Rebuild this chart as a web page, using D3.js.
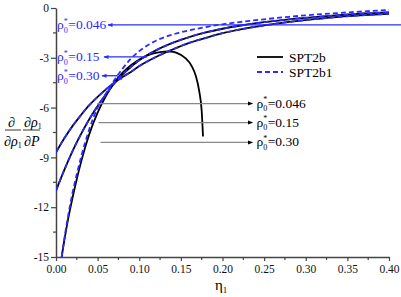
<!DOCTYPE html>
<html><head><meta charset="utf-8">
<script src="https://cdn.jsdelivr.net/npm/d3@7"></script>
<style>body{margin:0;background:#fff}svg{display:block}text{font-family:"Liberation Serif","Times New Roman",serif}</style>
</head><body><svg id="c" width="401" height="297"></svg>
<script>
// ---- data ----
const etaA = [0,0.01,0.02,0.03,0.04,0.05,0.06,0.07,0.08,0.09,0.10,0.12,0.14,0.16,0.18,0.20,0.22,0.25,0.28,0.31,0.34,0.37,0.40];
const spt2b_A = [-8.7,-7.85,-7.1,-6.45,-5.85,-5.35,-4.9,-4.5,-4.15,-3.85,-3.5,-2.95,-2.5,-2.1,-1.8,-1.52,-1.3,-1.05,-0.84,-0.67,-0.53,-0.43,-0.35];
const spt2b_B = [-11.0,-9.75,-8.6,-7.6,-6.7,-5.9,-5.2,-4.55,-4.0,-3.55,-3.15,-2.55,-2.1,-1.75,-1.47,-1.25,-1.07,-0.85,-0.68,-0.55,-0.43,-0.33,-0.26];
const etaC = [0.0068,0.01,0.015,0.02,0.025,0.03,0.035,0.04,0.05,0.06,0.07,0.08,0.09,0.10,0.11,0.12,0.13,0.137,0.145,0.155,0.163,0.168,0.172,0.175,0.1766];
const spt2b_C = [-15,-14.0,-12.6,-11.4,-10.3,-9.3,-8.4,-7.6,-6.3,-5.3,-4.5,-3.9,-3.45,-3.1,-2.85,-2.7,-2.63,-2.62,-2.7,-3.0,-3.5,-4.1,-5.0,-6.2,-7.74];
const etaC1 = [0.0068,0.01,0.015,0.02,0.025,0.03,0.035,0.04,0.05,0.06,0.07,0.08,0.09,0.10,0.11,0.12,0.14,0.16,0.18,0.20,0.22,0.25,0.28,0.31,0.34,0.37,0.40];
const spt2b1_C = [-15,-13.9,-12.4,-11.1,-10.0,-9.0,-8.1,-7.3,-6.0,-5.15,-4.35,-3.65,-3.05,-2.6,-2.25,-1.97,-1.6,-1.35,-1.15,-0.98,-0.85,-0.68,-0.53,-0.4,-0.3,-0.2,-0.12];
const spt2b1_A = spt2b_A.slice();
const spt2b1_B = spt2b_B.slice();
const xTicks = [0,0.05,0.10,0.15,0.20,0.25,0.30,0.35,0.40];
const yTicks = [0,-3,-6,-9,-12,-15];
const rhoLabels = ["0.046","0.15","0.30"];
const legendNames = ["SPT2b","SPT2b1"];
// annotation anchor values (data units)
const blackArrowY = [-5.76,-6.9,-8.1];
const blackArrowX0 = [0.0495,0.051,0.0535];
const blackArrowX1 = 0.236;
const blueArrowY = [-1.02,-2.95,-4.08];

const BLUE = "#2b2bff";
const FONT = "'Liberation Serif','Times New Roman',serif";
const svg = d3.select("#c");
const x = d3.scaleLinear().domain([0,0.4]).range([56,389]);
const y = d3.scaleLinear().domain([-15,0]).range([257,8]);

svg.append("defs").html(`
<marker id="ab" viewBox="0 0 10 10" refX="9" refY="5" markerWidth="7" markerHeight="5" orient="auto" markerUnits="userSpaceOnUse"><path d="M0,1 L10,5 L0,9 z" fill="#000"/></marker>
<marker id="au" viewBox="0 0 10 10" refX="9" refY="5" markerWidth="8" markerHeight="5" orient="auto" markerUnits="userSpaceOnUse"><path d="M0,1 L10,5 L0,9 z" fill="${BLUE}"/></marker>
<clipPath id="clip"><rect x="56" y="0" width="345" height="257.5"/></clipPath>`);

// axes
const xAxis = d3.axisBottom(x).tickValues(xTicks).tickFormat(d3.format(".2f")).tickSize(4).tickSizeOuter(0);
const gx = svg.append("g").attr("transform",`translate(0,${y(-15)})`).call(xAxis);
const yAxis = d3.axisLeft(y).tickValues(yTicks).tickFormat(d=>d).tickSize(5).tickSizeOuter(0);
const gy = svg.append("g").attr("transform",`translate(${x(0)},0)`).call(yAxis);
[gx,gy].forEach(g=>{g.attr("font-family",null);
  g.select(".domain").attr("stroke","#444").attr("stroke-width",1.5);
  g.selectAll(".tick line").attr("stroke","#444").attr("stroke-width",1.2);
  g.selectAll("text").attr("font-size",11.5).attr("fill","#111").style("font-family",FONT);});
gy.selectAll("text").attr("x",-7);
gx.selectAll("text").attr("y",8);
// minor ticks
const xm = d3.range(0.025,0.4,0.05);
svg.append("g").selectAll("line").data(xm).join("line").attr("x1",d=>x(d)).attr("x2",d=>x(d)).attr("y1",y(-15)).attr("y2",y(-15)+3).attr("stroke","#444").attr("stroke-width",1.2);
const ym = d3.range(-13.5,0,3);
svg.append("g").selectAll("line").data(ym).join("line").attr("x1",x(0)).attr("x2",x(0)-3).attr("y1",d=>y(d)).attr("y2",d=>y(d)).attr("stroke","#444").attr("stroke-width",1.2);

// curves
const line = d3.line().curve(d3.curveMonotoneX).x(d=>x(d[0])).y(d=>y(d[1]));
const plot = svg.append("g").attr("clip-path","url(#clip)");
function draw(xs,ys,col,dash){plot.append("path").attr("d",line(xs.map((v,i)=>[v,ys[i]]))).attr("fill","none").attr("stroke",col).attr("stroke-width",1.8).attr("stroke-dasharray",dash?"5,3":null);}
draw(etaA,spt2b_A,"#000",false);
draw(etaA,spt2b_B,"#000",false);
draw(etaC,spt2b_C,"#000",false);
draw(etaA,spt2b1_A,BLUE,true);
draw(etaA,spt2b1_B,BLUE,true);
draw(etaC1,spt2b1_C,BLUE,true);

// rho label helper: one text element, * stacked over subscript 0
function rho(g,x0,yb,val,col,fs){
  const s=fs*0.6;
  const t=g.append("text").attr("x",x0).attr("y",yb).attr("font-size",fs).attr("fill",col).style("font-family",FONT);
  t.append("tspan").text("ρ");
  t.append("tspan").attr("font-size",s).attr("dy",-fs*0.42).text("*");
  t.append("tspan").attr("font-size",s).attr("dx",-s*0.5).attr("dy",fs*0.7).text("0");
  t.append("tspan").attr("dy",-fs*0.28).attr("dx",0.5).text("="+val);
}
// black annotations
const ann=svg.append("g");
blackArrowY.forEach((v,i)=>{
  ann.append("line").attr("x1",x(blackArrowX0[i])).attr("x2",x(blackArrowX1)).attr("y1",y(v)).attr("y2",y(v)).attr("stroke","#888").attr("stroke-width",1.3).attr("marker-end","url(#ab)");
  rho(ann,x(blackArrowX1)+4,y(v)+4,rhoLabels[i],"#000",13.5);
});
// blue annotations
const bx0=[401,147,117], bx1=[108,104,102];
blueArrowY.forEach((v,i)=>{
  ann.append("line").attr("x1",bx0[i]).attr("x2",bx1[i]).attr("y1",y(v)).attr("y2",y(v)).attr("stroke",BLUE).attr("stroke-width",1.3).attr("marker-end","url(#au)");
  rho(ann,57,y(v)+4.5,rhoLabels[i],BLUE,13.5);
});
ann.append("line").attr("x1",117).attr("y1",y(-4.08)).attr("x2",122).attr("y2",y(-4.3)).attr("stroke",BLUE).attr("stroke-width",1.3);

// legend
const lg=svg.append("g");
lg.append("line").attr("x1",257).attr("x2",283).attr("y1",57).attr("y2",57).attr("stroke","#000").attr("stroke-width",1.8);
lg.append("line").attr("x1",257).attr("x2",283).attr("y1",72).attr("y2",72).attr("stroke",BLUE).attr("stroke-width",1.8).attr("stroke-dasharray","5,3");
lg.append("text").attr("x",289).attr("y",61.5).attr("font-size",13.5).text(legendNames[0]);
lg.append("text").attr("x",289).attr("y",76.5).attr("font-size",13.5).text(legendNames[1]);

// axis titles
svg.append("text").attr("x",215).attr("y",290).attr("font-size",15).text("η").append("tspan").attr("font-size",9).attr("dy",3).text("1");
const yl=svg.append("g");
yl.append("text").attr("x",8).attr("y",127).attr("font-size",14).text("∂");
yl.append("line").attr("x1",5).attr("x2",21).attr("y1",130).attr("y2",130).attr("stroke","#000").attr("stroke-width",0.8);
const d1=yl.append("text").attr("x",4).attr("y",146).attr("font-size",14);
d1.append("tspan").text("∂");d1.append("tspan").attr("font-style","italic").text("ρ");d1.append("tspan").attr("font-size",8).attr("dy",2).text("1");
const n2=yl.append("text").attr("x",24).attr("y",127).attr("font-size",14);
n2.append("tspan").text("∂");n2.append("tspan").attr("font-style","italic").text("ρ");n2.append("tspan").attr("font-size",8).attr("dy",2).text("1");
yl.append("line").attr("x1",23).attr("x2",40).attr("y1",130).attr("y2",130).attr("stroke","#000").attr("stroke-width",0.8);
const d2=yl.append("text").attr("x",24).attr("y",146).attr("font-size",14);
d2.append("tspan").text("∂");d2.append("tspan").attr("font-style","italic").text("P");
</script></body></html>
